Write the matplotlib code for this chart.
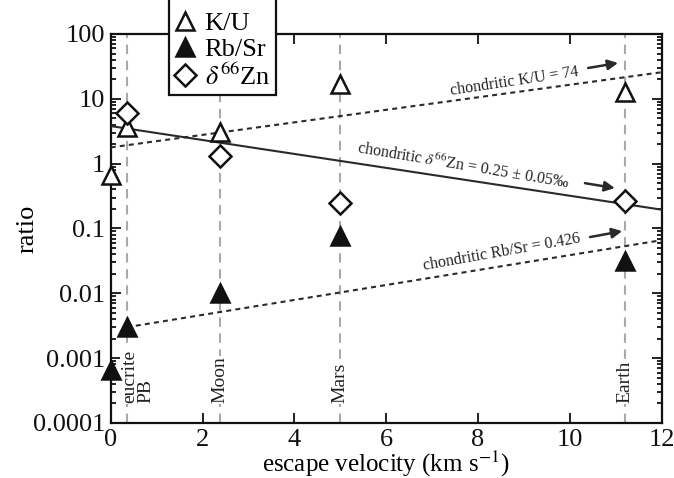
import matplotlib
matplotlib.use('Agg')
import matplotlib.pyplot as plt
from matplotlib.patches import Rectangle
from matplotlib.ticker import FixedLocator, FixedFormatter, LogLocator, NullFormatter

plt.rcParams['font.family'] = ['Liberation Serif', 'DejaVu Serif']
plt.rcParams['mathtext.fontset'] = 'stix'

# ---------------- data ----------------
ku_x = [0.0, 0.35, 2.38, 5.0, 11.2]
ku_y = [0.67, 3.7, 3.1, 17.0, 12.6]

rbsr_x = [0.0, 0.35, 2.38, 5.0, 11.2]
rbsr_y = [0.00065, 0.0030, 0.010, 0.076, 0.032]

zn_x = [0.35, 2.38, 5.0, 11.2]
zn_y = [6.0, 1.32, 0.25, 0.27]

# chondritic reference lines (end points)
ku_line_x = [0.0, 12.0]
ku_line_y = [1.78, 25.7]
zn_line_x = [0.0, 12.0]
zn_line_y = [3.8, 0.195]
rbsr_line_x = [0.35, 12.0]
rbsr_line_y = [0.0030, 0.066]

bodies_x = [0.35, 2.38, 5.0, 11.2]
bodies = ['eucrite\nPB', 'Moon', 'Mars', 'Earth']

x_ticks = [0, 2, 4, 6, 8, 10, 12]
y_ticks = [0.0001, 0.001, 0.01, 0.1, 1, 10, 100]
y_ticklabels = ['0.0001', '0.001', '0.01', '0.1', '1', '10', '100']

# ---------------- figure ----------------
W, H = 674, 478
fig = plt.figure(figsize=(W / 100, H / 100), dpi=100)
ax = fig.add_axes([0.1642, 0.1151, 0.8175, 0.8138])
ax.set_yscale('log')
ax.set_xlim(0, 12)
ax.set_ylim(1e-4, 100)

dark = '#2a2a2a'

for bx, lab in zip(bodies_x, bodies):
    ax.axvline(bx, color='#a9a9a9', lw=1.5, dashes=(4.5, 3.2), zorder=1)
    off = 8.0 if '\n' in lab else 0.0
    ax.annotate(lab, xy=(bx, 2.0e-4), xytext=(off, 0), textcoords='offset points',
                rotation=90, ha='center', va='bottom', multialignment='left',
                linespacing=1.0, fontsize=14, color='#222222', zorder=2,
                bbox=dict(boxstyle='square,pad=0.05', fc='white', ec='none'))

ax.plot(ku_line_x, ku_line_y, color=dark, lw=1.5, dashes=(2.4, 2.0), zorder=3)
ax.plot(rbsr_line_x, rbsr_line_y, color=dark, lw=1.5, dashes=(2.4, 2.0), zorder=3)
ax.plot(zn_line_x, zn_line_y, color=dark, lw=1.5, zorder=3)

ax.plot(ku_x, ku_y, ls='none', marker='^', ms=13, mfc='white', mec='#111111', mew=1.8,
        zorder=5, label='K/U', clip_on=False)
ax.plot(rbsr_x, rbsr_y, ls='none', marker='^', ms=13, mfc='#111111', mec='#111111', mew=1.8,
        zorder=5, label='Rb/Sr', clip_on=False)
ax.plot(zn_x, zn_y, ls='none', marker='D', ms=11.5, mfc='white', mec='#111111', mew=1.8,
        zorder=5, label=r'$\delta^{66}$Zn', clip_on=False)

# annotations
arrowprops = dict(arrowstyle='-|>,head_length=0.6,head_width=0.3', color=dark, lw=1.8,
                  shrinkA=0, shrinkB=0)
ax.annotate('', xy=(11.05, 35.7), xytext=(10.4, 29.9), arrowprops=arrowprops, zorder=6)
ax.annotate('', xy=(10.98, 0.42), xytext=(10.33, 0.50), arrowprops=arrowprops, zorder=6)
ax.annotate('', xy=(11.14, 0.091), xytext=(10.44, 0.0737), arrowprops=arrowprops, zorder=6)

ax.text(8.8, 18.2, 'chondritic K/U = 74', rotation=8.5, ha='center', va='center',
        fontsize=11.5, color='#222222', rotation_mode='anchor')
ax.text(7.67, 0.92, 'chondritic $\\delta^{66}$Zn = 0.25 ± 0.05‰', rotation=-9.5,
        ha='center', va='center', fontsize=11.5, color='#222222', rotation_mode='anchor')
ax.text(8.52, 0.0432, 'chondritic Rb/Sr = 0.426', rotation=10, ha='center', va='center',
        fontsize=11.5, color='#222222', rotation_mode='anchor')

# axes styling
ax.xaxis.set_major_locator(FixedLocator(x_ticks))
ax.set_xticklabels([str(t) for t in x_ticks])
ax.yaxis.set_major_locator(FixedLocator(y_ticks))
ax.yaxis.set_major_formatter(FixedFormatter(y_ticklabels))
ax.yaxis.set_minor_locator(LogLocator(base=10, subs=range(2, 10), numticks=20))
ax.yaxis.set_minor_formatter(NullFormatter())
ax.tick_params(which='both', direction='in', top=True, right=True, colors='#111111',
               labelsize=19, width=1.3)
ax.tick_params(which='major', length=7, pad=4)
ax.tick_params(which='minor', length=3.5)
for s in ax.spines.values():
    s.set_linewidth(1.6)
    s.set_color('#111111')

ax.set_xlabel('escape velocity (km s$^{-1}$)', fontsize=18)
ax.xaxis.set_label_coords(0.5, -0.106)
ax.xaxis.label.set_va('center')
ax.set_ylabel('ratio', fontsize=19)
ax.yaxis.set_label_coords(-0.150, 0.5)
ax.yaxis.label.set_va('center')

# legend box (its top is cropped by the figure edge)
box = Rectangle((169 / W, 1 - 95 / H), (276 - 169) / W, 100 / H, transform=fig.transFigure,
                fc='white', ec='#111111', lw=1.6, zorder=8)
fig.patches.append(box)
leg = fig.legend(loc='lower left', bbox_to_anchor=(169 / W, 1 - 95 / H),
                 bbox_transform=fig.transFigure, borderaxespad=0, fontsize=19,
                 frameon=False, handlelength=0.8, handletextpad=0.35, labelspacing=0.1,
                 borderpad=0.2, numpoints=1)
leg.set_zorder(10)

fig.savefig('out.png', dpi=100)
